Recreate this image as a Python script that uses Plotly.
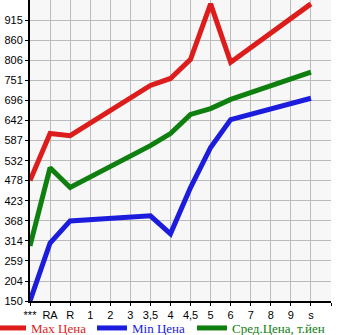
import plotly.graph_objects as go

categories = ["***", "RA", "R", "1", "2", "3", "3,5", "4", "4,5", "5", "6", "7", "8", "9", "s"]
max_price = [478, 606, 600, None, None, None, 737, 756, 808, 959, 800, None, None, None, 959]
min_price = [150, 308, 368, None, None, None, 382, 333, 459, 568, 644, None, None, None, 702]
avg_price = [300, 513, 459, None, None, None, 573, 606, 658, 674, 699, None, None, None, 773]
y_ticks = [150, 204, 259, 314, 368, 423, 478, 532, 587, 642, 696, 751, 806, 860, 915]

series = [
    ("Max Цена", max_price, "#dd1c1c", 56),
    ("Min Цена", min_price, "#1c1cdd", 55),
    ("Сред.Цена, т.йен", avg_price, "#0f800f", 101),
]

W, H = 345, 335
xs = list(range(len(categories)))
fig = go.Figure()
for name, vals, col, lw in series:
    fig.add_trace(go.Scatter(
        x=xs, y=vals, mode="lines", connectgaps=True,
        line=dict(color=col, width=5),
        name=f"<span style='color:{col}'>{name}</span>",
        legendwidth=lw,
    ))

fig.update_layout(
    width=W, height=H,
    margin=dict(l=0, r=0, t=0, b=34, autoexpand=False),
    paper_bgcolor="white", plot_bgcolor="#f7f7f7",
    font=dict(family="Liberation Sans, Arial, sans-serif", size=11, color="black"),
    showlegend=True,
    legend=dict(
        orientation="h", x=-9 / W, xanchor="left", xref="paper",
        y=-42 / 301, yanchor="bottom", yref="paper",
        font=dict(family="Liberation Serif, serif", size=13),
        itemwidth=30, tracegroupgap=0, bgcolor="rgba(0,0,0,0)",
        entrywidthmode="pixels",
    ),
)
fig.update_xaxes(
    domain=[30 / W, 331 / W],
    range=[0, 15], tickmode="array", tickvals=list(range(16)),
    ticktext=categories + [""],
    showgrid=True, gridcolor="#bbbbbb", gridwidth=1,
    showline=True, linecolor="black", linewidth=2,
    ticks="outside", ticklen=3, tickcolor="black", tickwidth=1,
    zeroline=False,
)
fig.update_yaxes(
    range=[150, 969.6], tickmode="array", tickvals=y_ticks,
    ticktext=[str(v) for v in y_ticks],
    showgrid=True, gridcolor="#bbbbbb", gridwidth=1,
    showline=True, linecolor="black", linewidth=2,
    ticks="outside", ticklen=3, tickcolor="black", tickwidth=1,
    zeroline=False,
)
fig.write_html("out.html")
